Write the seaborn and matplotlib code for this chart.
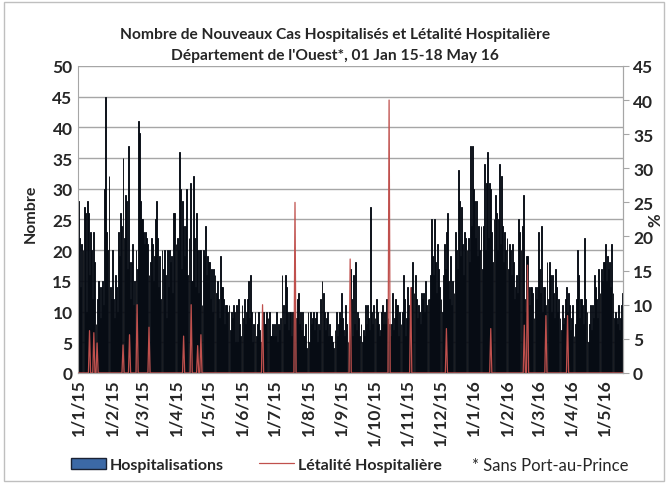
import pandas as pd
import matplotlib
matplotlib.use("Agg")
import matplotlib.pyplot as plt
import seaborn as sns
from matplotlib.patches import Patch, Rectangle
from matplotlib.lines import Line2D

# Daily new hospitalised cases (one list per month)
jan15 = [28, 22, 14, 21, 20, 27, 26, 10, 28, 26, 16, 23, 20, 12, 23, 18, 8, 12, 15, 14, 9, 14, 15, 11, 30, 45, 23, 20, 32, 14, 12]
feb15 = [20, 12, 9, 16, 14, 10, 23, 19, 26, 24, 35, 22, 29, 28, 17, 37, 18, 12, 18, 21, 11, 15, 20, 17, 41, 39, 28, 25]
mar15 = [25, 23, 21, 23, 22, 21, 16, 18, 22, 21, 15, 19, 25, 28, 22, 14, 19, 12, 20, 17, 20, 16, 9, 20, 14, 20, 18, 19, 13, 26, 26]
apr15 = [21, 22, 20, 36, 30, 17, 28, 24, 19, 24, 30, 16, 22, 31, 15, 15, 32, 22, 14, 26, 20, 13, 20, 20, 11, 20, 19, 24, 16, 19]
may15 = [18, 18, 12, 17, 10, 17, 16, 13, 15, 12, 9, 19, 14, 14, 12, 8, 11, 11, 10, 11, 7, 10, 9, 11, 10, 5, 11, 5, 12, 8, 6]
jun15 = [11, 9, 12, 8, 10, 12, 15, 9, 16, 10, 5, 8, 10, 6, 8, 10, 7, 5, 5, 8, 10, 8, 8, 10, 9, 10, 6, 6, 8, 6]
jul15 = [8, 6, 10, 5, 8, 7, 9, 16, 11, 8, 16, 14, 10, 7, 10, 10, 6, 10, 10, 12, 9, 12, 13, 8, 10, 7, 10, 6, 6, 8, 4]
aug15 = [10, 5, 10, 8, 9, 10, 7, 9, 10, 5, 8, 7, 12, 15, 13, 10, 7, 9, 10, 6, 8, 6, 6, 5, 4, 7, 10, 6, 8, 10, 9]
sep15 = [13, 9, 7, 6, 11, 8, 5, 10, 17, 12, 6, 16, 8, 18, 7, 10, 9, 6, 8, 5, 7, 6, 11, 8, 11, 9, 7, 27, 10, 8]
oct15 = [11, 9, 12, 10, 8, 6, 7, 10, 11, 8, 10, 8, 12, 9, 8, 6, 8, 13, 7, 9, 12, 11, 11, 6, 10, 8, 10, 16, 12, 6, 9]
nov15 = [14, 11, 9, 7, 14, 18, 13, 16, 12, 9, 11, 10, 8, 13, 12, 13, 10, 15, 11, 12, 12, 16, 25, 19, 16, 25, 18, 13, 21, 17]
dec15 = [14, 12, 10, 16, 21, 17, 23, 26, 15, 12, 19, 11, 15, 13, 23, 20, 17, 33, 28, 19, 27, 21, 16, 23, 22, 20, 22, 18, 37, 24, 37]
jan16 = [30, 28, 22, 28, 19, 24, 20, 24, 17, 24, 34, 20, 31, 36, 22, 31, 30, 23, 18, 25, 29, 26, 20, 25, 34, 21, 32, 24, 18, 23, 20]
feb16 = [22, 17, 21, 20, 16, 21, 18, 12, 14, 16, 13, 25, 23, 20, 24, 29, 12, 10, 19, 19, 14, 11, 14, 14, 13, 9, 14, 12, 14]
mar16 = [23, 17, 13, 24, 10, 14, 14, 11, 18, 12, 18, 16, 10, 16, 13, 9, 17, 14, 10, 12, 9, 7, 11, 8, 9, 12, 14, 10, 13, 11, 7]
apr16 = [9, 11, 6, 8, 12, 20, 16, 9, 12, 12, 11, 8, 22, 12, 10, 5, 8, 11, 7, 11, 9, 16, 14, 12, 9, 17, 13, 17, 15, 18]
may16 = [18, 21, 15, 19, 17, 18, 14, 21, 13, 9, 10, 9, 8, 11, 7, 9, 11, 13]

hosp = (jan15 + feb15 + mar15 + apr15 + may15 + jun15 + jul15 + aug15 + sep15
        + oct15 + nov15 + dec15 + jan16 + feb16 + mar16 + apr16 + may16)

# Hospital lethality (%) - zero every day except these
let_dates = ["2015-01-11", "2015-01-15", "2015-01-18", "2015-02-11", "2015-02-17",
             "2015-02-24", "2015-03-07", "2015-04-08", "2015-04-15", "2015-04-21",
             "2015-04-24", "2015-06-20", "2015-07-20", "2015-09-09", "2015-10-15",
             "2015-11-04", "2015-12-07", "2016-01-17", "2016-02-17", "2016-02-20",
             "2016-03-08", "2016-03-28"]
let_values = [6.2, 5.9, 4.4, 4.1, 5.6, 10, 6.7, 5.4, 10, 4, 5.6, 10, 25, 16.7, 40,
              12.5, 6.5, 6.5, 7, 15.8, 8.4, 8.4]

days = pd.date_range("2015-01-01", "2016-05-18", freq="D")
df = pd.DataFrame({"date": days, "hosp": hosp})
df["day"] = range(len(df))
let = pd.Series(let_values, index=pd.to_datetime(let_dates))
df["let"] = let.reindex(days, fill_value=0).values

sns.set_style("white")
plt.rcParams["font.family"] = ["Lato", "DejaVu Sans"]

fig = plt.figure(figsize=(6.68, 4.85), dpi=100)
ax = fig.add_axes([0.117, 0.229, 0.816, 0.633])

sns.barplot(x="day", y="hosp", data=df, native_scale=True, ax=ax,
            color="#3C69A6", edgecolor="#04070d", linewidth=0.65,
            errorbar=None, width=0.85, saturation=1)
ax.set_ylim(0, 50)
ax.set_yticks(range(0, 51, 5))
ax.set_xlim(-0.5, len(df) - 0.5)
ax.yaxis.grid(True, color="#A6A6A6", lw=1)
ax.set_axisbelow(True)

firsts = df[df["date"].dt.day == 1]
ax.set_xticks(firsts["day"])
ax.set_xticklabels([f"{d.day}/{d.month}/{d.year % 100}" for d in firsts["date"]],
                   rotation=90, fontweight="bold", fontsize=12.5)
ax.set_xlabel("")
ax.set_ylabel("Nombre", fontweight="bold", fontsize=11.5)
ax.yaxis.set_label_coords(-0.074, 0.52)
ax.tick_params(axis="both", length=0, labelsize=12.5, pad=4)
for t in ax.get_yticklabels():
    t.set_fontweight("bold")

ax2 = ax.twinx()
sns.lineplot(x="day", y="let", data=df, ax=ax2, color="#C0504D", lw=0.9)
ax2.set_ylim(0, 45)
ax2.set_yticks(range(0, 46, 5))
ax2.set_ylabel("%", fontweight="bold", fontsize=12)
ax2.yaxis.set_label_coords(1.044, 0.5)
ax2.tick_params(axis="y", length=4, color="#A6A6A6", labelsize=12.5, pad=3)
for t in ax2.get_yticklabels():
    t.set_fontweight("bold")

for a in (ax, ax2):
    a.spines["top"].set_visible(False)
    for s in ("left", "right", "bottom"):
        a.spines[s].set_color("#A6A6A6")
ax2.spines["left"].set_visible(False)

fig.text(0.502, 0.907,
         "Nombre de Nouveaux Cas Hospitalisés et Létalité Hospitalière\n"
         "Département de l'Ouest*, 01 Jan 15-18 May 16",
         ha="center", va="center", fontweight="bold", fontsize=11.2, linespacing=1.65)

handles = [Patch(facecolor="#3C69A6", edgecolor="#1a2233"),
           Line2D([], [], color="#C0504D", lw=0.9)]
fig.legend(handles, ["Hospitalisations", "Létalité Hospitalière"],
           loc="center left", bbox_to_anchor=(0.106, 0.04), ncol=2, frameon=False,
           prop={"weight": "bold", "size": 11.5}, handlelength=2.2, columnspacing=2.2,
           handletextpad=0.25, borderpad=0, borderaxespad=0)
fig.text(0.706, 0.04, "* Sans Port-au-Prince", fontsize=12, va="center")

fig.patches.append(Rectangle((0.006, 0.006), 0.988, 0.988, transform=fig.transFigure,
                             fill=False, edgecolor="#BFBFBF", lw=1))

fig.savefig("out.png", dpi=100)
